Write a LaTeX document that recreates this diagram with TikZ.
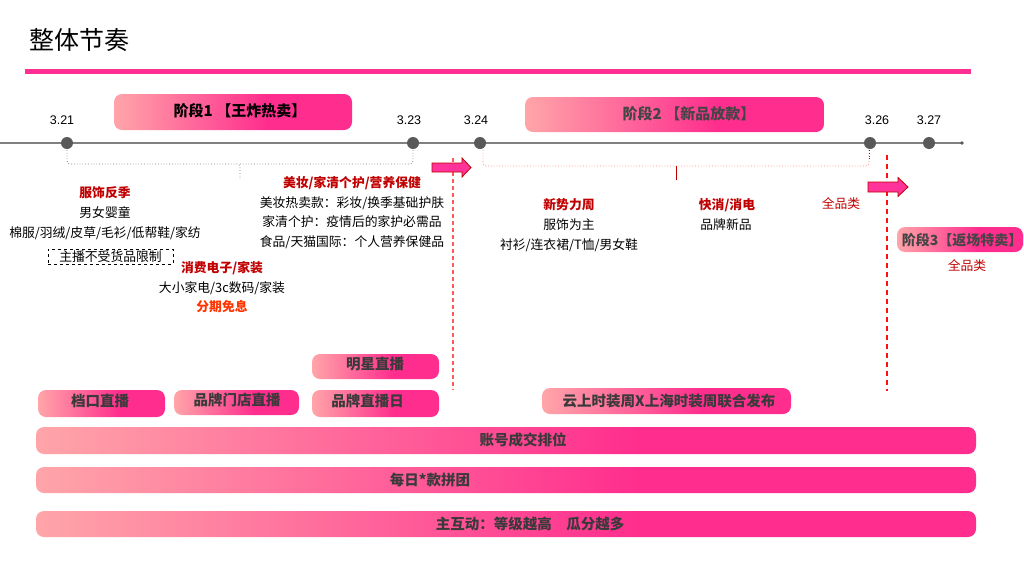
\documentclass[tikz,border=0pt]{standalone}
\usepackage{fontspec}
\setmainfont{Noto Sans CJK SC}
\newfontfamily\numfont{Liberation Sans}
\usetikzlibrary{calc}
\definecolor{pinkA}{HTML}{FFA5A9}
\definecolor{pinkB}{HTML}{FF2E8E}
\definecolor{titlebar}{HTML}{FF2E93}
\definecolor{darkred}{HTML}{C00000}
\definecolor{orred}{HTML}{FF3300}
\definecolor{txtgray}{HTML}{3A3A3A}
\definecolor{phgray}{HTML}{454545}
\definecolor{linegray}{HTML}{808080}
\definecolor{dotgray}{HTML}{595959}
\definecolor{lightred}{HTML}{FF8A8A}
\definecolor{dashred}{HTML}{FF5B5B}
\definecolor{sepred}{HTML}{FF1010}
\definecolor{arrowpink}{HTML}{FF3399}
\pgfdeclarehorizontalshading{pinkgrad}{100bp}{color(0bp)=(pinkA); color(25bp)=(pinkA); color(57bp)=(pinkB); color(100bp)=(pinkB)}
\tikzset{
  pillbox/.style={shade, shading=pinkgrad, rounded corners=8pt, draw=none, inner sep=0pt},
  pilltext/.style={font=\fontsize{14.5}{16}\selectfont\bfseries, text=txtgray, inner sep=0pt},
  phasetext/.style={font=\fontsize{15}{17}\selectfont\bfseries, text=phgray, inner sep=0pt},
  body/.style={font=\fontsize{12.8}{15}\selectfont, text=black, inner sep=0pt},
  redhead/.style={font=\fontsize{12.8}{15}\selectfont\bfseries, text=darkred, inner sep=0pt},
  datelabel/.style={font=\numfont\fontsize{12.5}{14}\selectfont, text=black, inner sep=0pt},
  tdot/.style={circle, fill=dotgray, minimum size=12pt, inner sep=0pt},
  blockarrow/.style={fill=arrowpink, draw=darkred, line width=0.8pt},
}
\begin{document}
\begin{tikzpicture}[x=1pt,y=-1pt]
\useasboundingbox (0,0) rectangle (1024,576);
% title
\node[font=\fontsize{25}{28}\selectfont, anchor=west, inner sep=0pt] (title) at (29,40) {整体节奏};
\fill[titlebar] (25,69) rectangle (971,74);

% timeline
\coordinate (tstart) at (0,143);
\coordinate (tend) at (962,143);
\draw[linegray, line width=2pt] (tstart) -- (tend);
\fill[dotgray] (tend) circle (1.8pt);
\node[tdot] (d1) at (67,143) {};
\node[tdot] (d2) at (413,143) {};
\node[tdot] (d3) at (480,143) {};
\node[tdot] (d4) at (870,143) {};
\node[tdot] (d5) at (929,143) {};
\node[datelabel] (l1) at (62,120) {3.21};
\node[datelabel] (l2) at (409,120) {3.23};
\node[datelabel] (l3) at (476,120) {3.24};
\node[datelabel] (l4) at (877,120) {3.26};
\node[datelabel] (l5) at (929,120) {3.27};

% phase boxes
\node[pillbox, minimum width=238pt, minimum height=36pt] (ph1) at (233,112) {};
\node[phasetext, text=black] (ph1t) at (240,111) {阶段1 【王炸热卖】};
\node[pillbox, minimum width=299pt, minimum height=35pt] (ph2) at (674.5,114.5) {};
\node[phasetext] (ph2t) at (689,114) {阶段2 【新品放款】};
\node[pillbox, minimum width=126pt, minimum height=25pt] (ph3) at (960,239.5) {};
\node[phasetext, font=\fontsize{14}{16}\selectfont\bfseries] (ph3t) at (962,240) {阶段3【返场特卖】};

% braces
\coordinate (b1mid) at (240,164);
\coordinate (b1tip) at (240,179);
\draw[linegray, dotted, line width=0.8pt, rounded corners=3pt] ($(d1)+(0,7)$) |- (b1mid) -- (b1tip);
\draw[linegray, dotted, line width=0.8pt, rounded corners=3pt] ($(d2)+(0,7)$) |- (b1mid);
\coordinate (b2mid) at (676,166);
\coordinate (b2tip) at (676,180);
\draw[lightred, dotted, line width=0.8pt, rounded corners=3pt] ($(d3)+(3,7)$) |- (b2mid);
\draw[lightred, dotted, line width=0.8pt, rounded corners=3pt] ($(d4)+(-1,7)$) |- (b2mid);
\draw[darkred, line width=0.7pt] (b2mid) -- (b2tip);
\draw[darkred, dotted, line width=0.8pt] ($(d4)+(-1,7)$) -- ($(d4)+(-1,17)$);

% dashed separators
\coordinate (s1a) at (453,158);
\coordinate (s1b) at (453,390);
\draw[dashred, dash pattern=on 4pt off 3pt, line width=2pt] (s1a) -- (s1b);
\coordinate (s2a) at (887,155);
\coordinate (s2b) at (887,391);
\draw[sepred, dash pattern=on 5pt off 4pt, line width=1.3pt] (s2a) -- (s2b);

% block arrows
\draw[blockarrow] (432,163) -- (462,163) -- (462,158) -- (471,167.5) -- (462,177) -- (462,172) -- (432,172) -- cycle;
\draw[blockarrow] (868,182) -- (898,182) -- (898,177.5) -- (908,187) -- (898,196.5) -- (898,192) -- (868,192) -- cycle;

% left texts
\node[redhead] (t1) at (105,193) {服饰反季};
\node[body] (t2) at (105,213) {男女婴童};
\node[body] (t3) at (105,233) {棉服/羽绒/皮草/毛衫/低帮鞋/家纺};
\node[body, draw=black, dashed, line width=0.6pt, minimum width=125pt, minimum height=15pt] (t4) at (110.5,256.5) {主播不受货品限制};
\node[redhead] (t5) at (222,268) {消费电子/家装};
\node[body] (t6) at (222,288) {大小家电/3c数码/家装};
\node[redhead, text=orred] (t7) at (222,307) {分期免息};
\node[redhead] (t8) at (352,183) {美妆/家清个护/营养保健};
\node[body] (t9) at (352,203) {美妆热卖款：彩妆/换季基础护肤};
\node[body] (t10) at (352,222) {家清个护：疫情后的家护必需品};
\node[body] (t11) at (352,242) {食品/天猫国际：个人营养保健品};

% right texts
\node[redhead] (r1) at (569,205) {新势力周};
\node[body] (r2) at (569,225) {服饰为主};
\node[body] (r3) at (569,245) {衬衫/连衣裙/T恤/男女鞋};
\node[redhead] (r4) at (727,205) {快消/消电};
\node[body] (r5) at (726,225) {品牌新品};
\node[body, text=darkred] (r6) at (841,204) {全品类};
\node[body, text=darkred] (r7) at (967,266) {全品类};

% pills
\node[pillbox, minimum width=127pt, minimum height=25pt] (p0) at (375.5,366.5) {};
\node[pilltext] (p0t) at (375,364) {明星直播};
\node[pillbox, minimum width=127pt, minimum height=27pt] (p1) at (101.5,403.5) {};
\node[pilltext] (p1t) at (100,401) {档口直播};
\node[pillbox, minimum width=125pt, minimum height=25pt] (p2) at (236.5,402.5) {};
\node[pilltext] (p2t) at (237,400) {品牌门店直播};
\node[pillbox, minimum width=127pt, minimum height=27pt] (p3) at (375.5,403.5) {};
\node[pilltext] (p3t) at (367.5,401) {品牌直播日};
\node[pillbox, minimum width=249pt, minimum height=26pt] (p4) at (666.5,401) {};
\node[pilltext] (p4t) at (669,401) {云上时装周X上海时装周联合发布};

% long bars
\node[pillbox, minimum width=940pt, minimum height=27pt] (bar1) at (506,440.5) {};
\node[pilltext] (bar1t) at (523,440) {账号成交排位};
\node[pillbox, minimum width=940pt, minimum height=26pt] (bar2) at (506,480) {};
\node[pilltext] (bar2t) at (430,480) {每日*款拼团};
\node[pillbox, minimum width=940pt, minimum height=26pt] (bar3) at (506,524) {};
\node[pilltext] (bar3t) at (530,524) {主互动：等级越高\hspace{1em}瓜分越多};
\end{tikzpicture}
\end{document}
